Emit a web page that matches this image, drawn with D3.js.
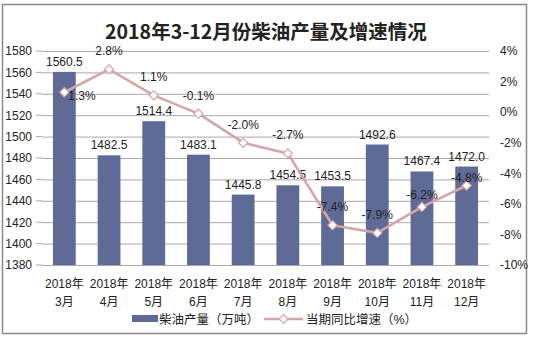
<!DOCTYPE html>
<html>
<head>
<meta charset="utf-8">
<script src="https://cdn.jsdelivr.net/npm/d3@7"></script>
<style>
  html, body { margin: 0; padding: 0; background: #fff; }
  svg { display: block; }
  text { font-family: "Liberation Sans", Arial, "Noto Sans CJK SC", sans-serif; }
</style>
</head>
<body>
<svg id="chart" width="533" height="338"></svg>
<script>
// Monthly diesel output (10k tonnes) and year-on-year growth (%)
const years = ["2018年","2018年","2018年","2018年","2018年","2018年","2018年","2018年","2018年","2018年"];
const months = ["3月","4月","5月","6月","7月","8月","9月","10月","11月","12月"];
const output = [1560.5, 1482.5, 1514.4, 1483.1, 1445.8, 1454.5, 1453.5, 1492.6, 1467.4, 1472.0];
const growth = [1.3, 2.8, 1.1, -0.1, -2.0, -2.7, -7.4, -7.9, -6.2, -4.8];
const leftTicks = [1380, 1400, 1420, 1440, 1460, 1480, 1500, 1520, 1540, 1560, 1580];
const rightTicks = [-10, -8, -6, -4, -2, 0, 2, 4];

const barColor = "#5f6b97";
const lineColor = "#d3a6a7";
const textColor = "#222";
const cjk = "'Liberation Sans', Arial, 'Noto Sans CJK SC', sans-serif";

const svg = d3.select("#chart");

// outer frame
svg.append("rect")
  .attr("x", 2.5).attr("y", 4.5).attr("width", 524).attr("height", 329)
  .attr("fill", "#fff").attr("stroke", "#8a8a8a").attr("stroke-width", 1.5);

// title
svg.append("text")
  .attr("x", 266).attr("y", 38.5)
  .attr("text-anchor", "middle")
  .style("font-family", "'Noto Sans CJK SC', sans-serif")
  .style("font-weight", "bold")
  .style("font-size", "19.5px")
  .attr("fill", "#222")
  .text("2018年3-12月份柴油产量及增速情况");

const plot = { left: 42, right: 489, top: 51, bottom: 265 };

const x = d3.scaleBand().domain(d3.range(output.length))
  .range([plot.left, plot.right]).paddingInner(0.49).paddingOuter(0.245);
const yL = d3.scaleLinear().domain([1380, 1580]).range([plot.bottom, plot.top]);
const yR = d3.scaleLinear().domain([-10, 4]).range([plot.bottom, plot.top]);
const cx = i => x(i) + x.bandwidth() / 2;

// gridlines from left axis
svg.append("g")
  .attr("transform", `translate(${plot.left},0)`)
  .call(d3.axisLeft(yL).tickValues(leftTicks).tickFormat(d3.format("d"))
    .tickSize(-(plot.right - plot.left)).tickSizeOuter(0).tickPadding(10))
  .call(g => g.select(".domain").remove())
  .call(g => g.selectAll(".tick line").attr("stroke", "#a9a9a9").attr("stroke-width", 1))
  .call(g => g.selectAll(".tick text").attr("fill", textColor).style("font-size", "12px"));

// short outside ticks on the left
svg.append("g").selectAll("line").data(leftTicks).join("line")
  .attr("x1", plot.left - 6).attr("x2", plot.left)
  .attr("y1", d => yL(d)).attr("y2", d => yL(d))
  .attr("stroke", "#a9a9a9");

// right axis labels
svg.append("g")
  .attr("transform", `translate(${plot.right},0)`)
  .call(d3.axisRight(yR).tickValues(rightTicks).tickSize(0).tickPadding(11).tickFormat(d => d + "%"))
  .call(g => g.select(".domain").remove())
  .call(g => g.selectAll(".tick text").attr("fill", textColor).style("font-size", "12px"));

// bars
svg.append("g").selectAll("rect").data(output).join("rect")
  .attr("x", (d, i) => x(i)).attr("width", x.bandwidth())
  .attr("y", d => yL(d)).attr("height", d => plot.bottom - yL(d))
  .attr("fill", barColor);

// bar value labels
svg.append("g").selectAll("text").data(output).join("text")
  .attr("x", (d, i) => cx(i)).attr("y", d => yL(d) - 6)
  .attr("text-anchor", "middle")
  .attr("fill", textColor).style("font-size", "12px")
  .text(d => d.toFixed(1));

// growth line
const line = d3.line().x((d, i) => cx(i)).y(d => yR(d));
svg.append("path").datum(growth)
  .attr("d", line).attr("fill", "none")
  .attr("stroke", lineColor).attr("stroke-width", 2.6).attr("stroke-linejoin", "round");

svg.append("g").selectAll("path").data(growth).join("path")
  .attr("transform", (d, i) => `translate(${cx(i)},${yR(d)}) rotate(45)`)
  .attr("d", d3.symbol().type(d3.symbolSquare).size(42))
  .attr("fill", "#fff").attr("stroke", lineColor).attr("stroke-width", 1.2);

// growth labels: first sits to the right of its point, the others above;
// the last two are pulled closer to the line to clear the bar labels
const labelLift = i => (i === 8 ? 8 : i === 9 ? 4 : 14);
svg.append("g").selectAll("text").data(growth).join("text")
  .attr("x", (d, i) => i === 0 ? cx(i) + 4 : cx(i))
  .attr("y", (d, i) => i === 0 ? yR(d) + 8 : yR(d) - labelLift(i))
  .attr("text-anchor", (d, i) => i === 0 ? "start" : "middle")
  .attr("fill", textColor).style("font-size", "12px")
  .text(d => d.toFixed(1) + "%");

// category labels, two lines
const xl = svg.append("g").selectAll("g").data(months).join("g")
  .attr("transform", (d, i) => `translate(${cx(i)},0)`);
xl.append("text").attr("y", 288).attr("text-anchor", "middle")
  .attr("fill", textColor).style("font-size", "12px")
  .text((d, i) => years[i]);
xl.append("text").attr("y", 306).attr("text-anchor", "middle")
  .attr("fill", textColor).style("font-size", "12px")
  .text(d => d);

// legend
const lg = svg.append("g");
lg.append("rect").attr("x", 132).attr("y", 315).attr("width", 26).attr("height", 7).attr("fill", barColor);
lg.append("text").attr("x", 159).attr("y", 323.5).attr("fill", textColor)
  .style("font-family", cjk).style("font-size", "12.5px")
  .text("柴油产量（万吨）");
lg.append("line").attr("x1", 264).attr("x2", 303).attr("y1", 319).attr("y2", 319)
  .attr("stroke", lineColor).attr("stroke-width", 2.6);
lg.append("path").attr("transform", "translate(283.5,319) rotate(45)")
  .attr("d", d3.symbol().type(d3.symbolSquare).size(38))
  .attr("fill", "#fff").attr("stroke", lineColor).attr("stroke-width", 1.2);
lg.append("text").attr("x", 306).attr("y", 323.5).attr("fill", textColor)
  .style("font-family", cjk).style("font-size", "12.5px")
  .text("当期同比增速（%）");
</script>
</body>
</html>
